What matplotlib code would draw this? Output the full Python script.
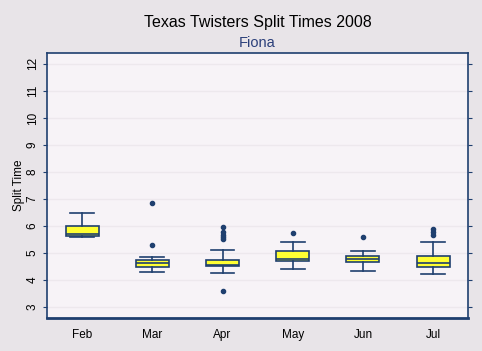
import matplotlib
matplotlib.use("Agg")
import matplotlib.pyplot as plt

months = ["Feb", "Mar", "Apr", "May", "Jun", "Jul"]
whislo = [5.59, 4.29, 4.25, 4.40, 4.33, 4.22]
q1 = [5.63, 4.48, 4.51, 4.70, 4.66, 4.48]
med = [5.69, 4.62, 4.57, 4.77, 4.77, 4.62]
q3 = [5.99, 4.73, 4.73, 5.07, 4.88, 4.88]
whishi = [6.47, 4.85, 5.10, 5.40, 5.07, 5.40]
fliers = [
    [],
    [6.86, 5.31],
    [5.95, 5.79, 5.66, 5.58, 5.52, 3.61],
    [5.75],
    [5.59],
    [5.88, 5.78, 5.68],
]

navy = "#1F3F6F"
plt.rcParams["font.family"] = ["Liberation Sans", "DejaVu Sans"]

fig = plt.figure(figsize=(4.82, 3.51), dpi=100, facecolor="#E8E4E8")
ax = fig.add_axes([0.0975, 0.094, 0.874, 0.755], facecolor="#F7F3F7")

stats = []
for i in range(len(months)):
    stats.append({"label": months[i], "whislo": whislo[i], "q1": q1[i], "med": med[i],
                  "q3": q3[i], "whishi": whishi[i], "fliers": fliers[i]})

ax.bxp(stats, positions=range(1, 7), widths=0.47, patch_artist=True,
       boxprops=dict(facecolor="#FFFF33", edgecolor=navy, linewidth=1.2),
       medianprops=dict(color=navy, linewidth=1.2),
       whiskerprops=dict(color=navy, linewidth=1.2),
       capprops=dict(color=navy, linewidth=1.2),
       flierprops=dict(marker="o", markersize=3, markerfacecolor=navy,
                       markeredgecolor=navy, linestyle="none"),
       capwidths=0.34)

ax.set_xlim(0.5, 6.5)
ax.set_ylim(2.6, 12.4)
ax.set_yticks(range(3, 13))
ax.set_yticklabels([str(v) for v in range(3, 13)], rotation=90, va="center", fontsize=8.5)
ax.set_xticks(range(1, 7))
ax.set_xticklabels(months, fontsize=8.5)
ax.tick_params(axis="x", length=0, pad=8)
ax.tick_params(axis="y", length=3, color=navy, right=True, pad=3)
ax.yaxis.grid(True, color="#EDE8ED", linewidth=1)
ax.set_axisbelow(True)
for s in ax.spines.values():
    s.set_color(navy)
    s.set_linewidth(1.2)
ax.spines["bottom"].set_linewidth(2)

ax.set_ylabel("Split Time", fontsize=8.5, labelpad=1)
fig.text(0.534, 0.935, "Texas Twisters Split Times 2008", ha="center", va="center", fontsize=11.5)
fig.text(0.534, 0.877, "Fiona", ha="center", va="center", fontsize=10.5, color="#2B3F7A")

fig.savefig("out.png", dpi=100, facecolor=fig.get_facecolor())
